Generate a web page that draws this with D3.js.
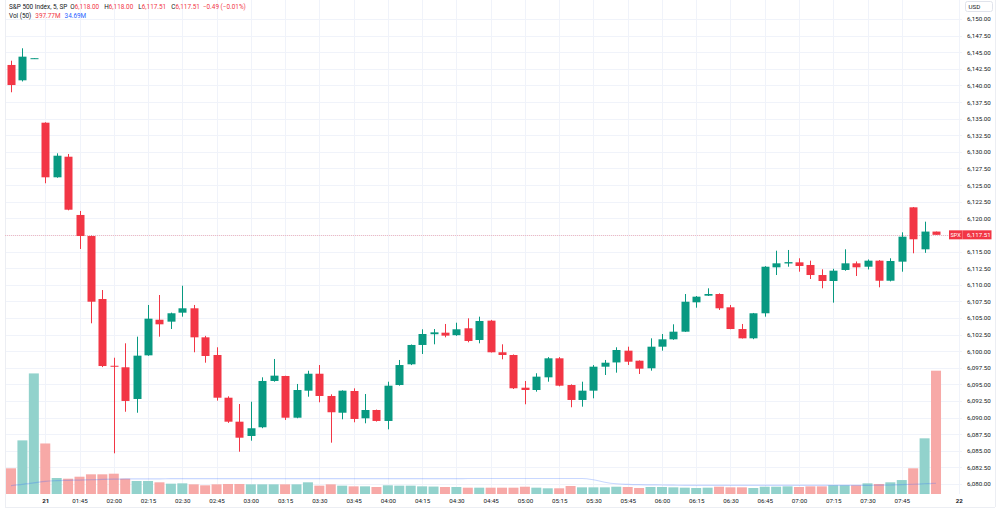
<!DOCTYPE html>
<html><head><meta charset="utf-8">
<script src="https://cdn.jsdelivr.net/npm/d3@7/dist/d3.min.js"></script>
<style>
body{margin:0;background:#fff;}
svg{display:block;font-family:Roboto,"Liberation Sans",sans-serif;}
</style>
</head><body>
<svg id="c" width="1000" height="509"></svg>
<script>
// ---- data (5-minute bars, S&P 500 Index) ----
const open  = [6143.08,6140.77,6144.05,6134.39,6126.17,6129.27,6120.50,6117.33,6107.85,6097.80,
  6097.57,6092.80,6099.37,6104.73,6104.44,6105.79,6106.45,6102.08,6099.42,6092.99,
  6089.38,6087.23,6088.54,6095.51,6096.26,6089.98,6094.05,6096.60,6093.25,6090.73,
  6094.00,6089.89,6091.14,6089.49,6094.90,6098.02,6100.93,6102.55,6102.78,6102.40,
  6103.44,6101.68,6104.59,6099.83,6099.42,6094.50,6094.15,6096.06,6098.92,6094.90,
  6092.65,6094.05,6097.66,6098.30,6100.07,6098.56,6097.42,6100.67,6101.78,6102.93,
  6107.35,6108.35,6108.60,6106.60,6103.33,6101.93,6105.70,6112.62,6113.20,6113.37,
  6112.97,6111.46,6110.56,6112.22,6113.22,6112.71,6113.62,6110.60,6113.47,6121.65,
  6115.33,6118.00];
const high  = [6143.72,6145.59,6144.10,6134.45,6129.78,6129.68,6121.10,6117.40,6109.20,6099.01,
  6101.18,6102.18,6106.95,6108.45,6105.80,6109.85,6106.95,6102.30,6100.58,6093.20,
  6092.04,6092.39,6096.06,6098.82,6096.30,6095.06,6097.05,6097.91,6093.50,6094.10,
  6094.40,6093.55,6091.20,6095.40,6098.67,6101.00,6103.29,6103.33,6104.09,6104.28,
  6104.94,6105.19,6104.70,6101.03,6099.50,6095.51,6096.67,6099.10,6099.10,6095.00,
  6095.40,6097.90,6098.67,6100.58,6100.67,6098.60,6101.93,6102.58,6104.04,6108.60,
  6108.30,6109.46,6108.70,6106.95,6104.09,6105.75,6112.80,6115.12,6115.23,6113.98,
  6113.62,6112.32,6112.40,6115.33,6113.50,6113.80,6113.70,6113.98,6117.89,6121.70,
  6119.49,6118.00];
const low   = [6138.97,6140.60,6144.00,6125.27,6126.10,6121.20,6115.38,6104.19,6097.60,6084.62,
  6090.88,6090.73,6099.30,6102.18,6103.33,6105.19,6099.83,6098.26,6092.55,6089.20,
  6084.86,6086.52,6088.40,6095.40,6089.64,6089.90,6093.14,6092.30,6086.22,6089.74,
  6089.29,6089.14,6089.40,6088.23,6094.80,6097.90,6099.57,6101.03,6102.08,6102.30,
  6101.33,6101.18,6099.80,6098.77,6094.30,6092.00,6093.90,6095.40,6094.70,6091.55,
  6091.64,6092.90,6096.41,6096.76,6097.92,6096.56,6097.06,6100.07,6101.70,6102.90,
  6106.54,6108.30,6106.20,6103.30,6101.90,6101.80,6105.19,6111.46,6112.71,6111.96,
  6110.86,6109.46,6107.30,6112.10,6111.31,6112.30,6109.61,6110.50,6111.96,6114.73,
  6114.80,6117.51];
const close = [6140.06,6144.33,6144.10,6126.17,6129.42,6121.29,6117.33,6107.44,6097.76,6097.66,
  6092.50,6099.32,6104.89,6104.04,6105.70,6106.45,6102.08,6099.27,6092.99,6089.38,
  6086.97,6088.39,6095.51,6096.31,6089.98,6094.15,6096.60,6093.25,6090.80,6094.05,
  6089.79,6091.14,6089.49,6094.80,6097.91,6100.93,6102.58,6102.83,6102.33,6103.29,
  6101.53,6104.54,6099.83,6099.42,6094.41,6094.15,6096.16,6098.92,6094.80,6092.65,
  6094.05,6097.66,6098.26,6100.17,6098.41,6097.36,6100.67,6101.78,6102.93,6107.44,
  6108.20,6108.60,6106.45,6103.33,6101.93,6105.70,6112.71,6113.22,6113.40,6112.82,
  6111.46,6110.56,6112.11,6113.22,6112.62,6113.62,6110.60,6113.57,6117.23,6116.84,
  6118.00,6117.51];
const volume = [82.9,173,389,163,51.6,49.4,55.8,63.5,63.5,65.5,
  49.4,42,42,37.7,33.3,34.4,31.2,28,31.2,32.3,
  32.3,31.2,31.2,31.2,31.2,31.2,37.7,26.9,31.2,26.9,
  24.7,24.7,22.6,28,26.9,26.9,24.7,24,22.6,22.6,
  20.4,20.4,20.4,20.4,20.4,23.5,20.4,18.4,18.4,25.8,
  21.5,21.5,21.5,23.5,22.6,19.4,22.6,22.6,21.5,20.4,
  19.4,20.4,23.5,21.5,21.5,19.4,23.5,23.5,24.7,22.6,
  24.7,24.7,28,28,28,34.4,32.3,37.7,45,82.9,
  179.6,397.77];
const volMA = [27,31,36,41,43,44,45,46,47,48,
  48.5,49,49,49,49.5,49.5,49.5,49.5,49.5,49.5,
  49.5,49.5,49.5,49.5,49.5,49.5,49.5,49.5,49.5,49.5,
  49.5,49.5,49.5,49.5,49.5,49.5,49.5,49.5,49.5,49.5,
  50,50,50,50,50,50,50,50,50,50,
  50,46,38,33,31,30,29.5,29,28.5,28,
  28,28,28,28,28,28,28,28,28,28,
  28,28,28,28,28,28,28.5,29,30,31.5,
  33,34.69];
const xTickBars   = [3,6,9,12,15,18,21,24,27,30,33,36,39,42,45,48,51,54,57,60,63,66,69,72,75,78,83];
const xTickLabels = ["21","01:45","02:00","02:15","02:30","02:45","03:00","03:15","03:30","03:45",
  "04:00","04:15","04:30","04:45","05:00","05:15","05:30","05:45","06:00","06:15",
  "06:30","06:45","07:00","07:15","07:30","07:45","22"];
const priceTicks = [6080,6082.5,6085,6087.5,6090,6092.5,6095,6097.5,6100,6102.5,6105,6107.5,
  6110,6112.5,6115,6117.5,6120,6122.5,6125,6127.5,6130,6132.5,6135,6137.5,6140,6142.5,
  6145,6147.5,6150];
const symbol = "S&P 500 Index, 5, SP";
const ticker = "SPX";

// ---- drawing ----
const UP = "#089981", DOWN = "#f23645";
const VUP = "#92d2cc", VDOWN = "#f7a9a7";
const svg = d3.select("#c");
const plotL = 5, plotR = 962, axisR = 995, bottom = 507;

const x = d3.scaleLinear().domain([0, 83]).range([11, 11 + 11.42 * 83]);
const y = d3.scaleLinear().domain([6080, 6150]).range([484, 19]);
const yv = d3.scaleLinear().domain([0, volume[volume.length - 1]]).range([494, 370.7]);
const n = close.length;
const idx = d3.range(n);
const isUp = i => close[i] >= open[i];

// grid
const g = svg.append("g");
g.selectAll("line.h").data(priceTicks).join("line")
  .attr("x1", plotL).attr("x2", plotR)
  .attr("y1", d => Math.round(y(d)) + 0.5).attr("y2", d => Math.round(y(d)) + 0.5)
  .attr("stroke", "#f0f3fa").attr("stroke-width", 1);
g.selectAll("line.v").data(xTickBars).join("line")
  .attr("x1", d => Math.round(x(d)) + 0.5).attr("x2", d => Math.round(x(d)) + 0.5)
  .attr("y1", 0).attr("y2", 494)
  .attr("stroke", "#f0f3fa").attr("stroke-width", 1);

// frame
svg.append("line").attr("x1", plotL + 0.5).attr("x2", plotL + 0.5).attr("y1", 0).attr("y2", bottom)
  .attr("stroke", "#eceef3");
svg.append("line").attr("x1", axisR + 0.5).attr("x2", axisR + 0.5).attr("y1", 0).attr("y2", bottom)
  .attr("stroke", "#eceef3");
svg.append("line").attr("x1", plotL).attr("x2", axisR).attr("y1", bottom + 0.5).attr("y2", bottom + 0.5)
  .attr("stroke", "#eceef3");

// volume bars
svg.append("g").selectAll("rect").data(idx).join("rect")
  .attr("x", i => x(i) - 5).attr("width", 10)
  .attr("y", i => yv(volume[i])).attr("height", i => yv(0) - yv(volume[i]))
  .attr("fill", i => isUp(i) ? VUP : VDOWN);

// volume MA line
svg.append("path").datum(idx)
  .attr("d", d3.line().x(i => x(i)).y(i => yv(volMA[i])).curve(d3.curveMonotoneX))
  .attr("fill", "none").attr("stroke", "rgba(41,98,255,0.25)").attr("stroke-width", 1.2);

// last price dotted line
const last = n - 1;
svg.append("line").attr("x1", plotL).attr("x2", 949)
  .attr("y1", Math.round(y(close[last])) + 0.5).attr("y2", Math.round(y(close[last])) + 0.5)
  .attr("stroke", DOWN).attr("stroke-opacity", 0.3).attr("stroke-dasharray", "1,1");

// candles
const cg = svg.append("g");
cg.selectAll("line").data(idx).join("line")
  .attr("x1", i => Math.round(x(i)) + 0.5).attr("x2", i => Math.round(x(i)) + 0.5)
  .attr("y1", i => y(high[i])).attr("y2", i => y(low[i]))
  .attr("stroke", i => isUp(i) ? UP : DOWN).attr("stroke-width", 1);
cg.selectAll("rect").data(idx).join("rect")
  .attr("x", i => Math.round(x(i)) - 3.5).attr("width", 8)
  .attr("y", i => y(Math.max(open[i], close[i])))
  .attr("height", i => Math.max(1, Math.abs(y(open[i]) - y(close[i]))))
  .attr("fill", i => isUp(i) ? UP : DOWN);

// price axis
const fmt = d3.format(",.2f");
const lastY = y(close[last]);
const yAxis = d3.axisRight(y)
  .tickValues(priceTicks.filter(p => Math.abs(y(p) - lastY) > 8))
  .tickFormat(fmt).tickSize(0).tickPadding(0);
const ya = svg.append("g").attr("transform", `translate(967,0)`).call(yAxis);
ya.select(".domain").remove();
ya.selectAll("text").attr("fill", "#131722").attr("font-size", 6.2)
  .attr("font-family", "Roboto, 'Liberation Sans', sans-serif");

// USD box
svg.append("rect").attr("x", 965.5).attr("y", 1.5).attr("width", 27).attr("height", 10)
  .attr("rx", 2).attr("fill", "#fff").attr("stroke", "#e0e3eb");
svg.append("text").attr("x", 968.5).attr("y", 8.8).attr("font-size", 6.2).attr("fill", "#131722").text("USD");

// last price label
svg.append("rect").attr("x", 949).attr("y", lastY - 4.5).attr("width", 13.5).attr("height", 9).attr("fill", DOWN);
svg.append("rect").attr("x", 962.5).attr("y", lastY - 4.5).attr("width", 29).attr("height", 9).attr("fill", DOWN);
svg.append("text").attr("x", 955.7).attr("y", lastY + 2.2).attr("text-anchor", "middle")
  .attr("font-size", 5.6).attr("fill", "#fff").text(ticker);
svg.append("text").attr("x", 967).attr("y", lastY + 2.2)
  .attr("font-size", 6.2).attr("fill", "#fff").text(fmt(close[last]));

// time axis
const xAxis = d3.axisBottom(x).tickValues(xTickBars)
  .tickFormat((d, k) => xTickLabels[k]).tickSize(0).tickPadding(0);
const xa = svg.append("g").attr("transform", "translate(0,503)").call(xAxis);
xa.select(".domain").remove();
xa.selectAll("text").attr("dy", 0).attr("fill", "#131722").attr("font-size", 6.2)
  .attr("font-family", "Roboto, 'Liberation Sans', sans-serif")
  .attr("font-weight", (d, k) => /^\d\d$/.test(xTickLabels[k]) ? "bold" : "normal");

// legend
const chg = close[last] - close[last - 1];
const pct = chg / close[last - 1] * 100;
const minus = v => (v < 0 ? "\u2212" : "+") + Math.abs(v).toFixed(2);
const valCol = isUp(last) ? UP : DOWN;
const leg = svg.append("g").attr("font-size", 6.4);
const t1 = leg.append("text").attr("x", 9).attr("y", 8.6).attr("fill", "#131722");
t1.append("tspan").text(symbol);
[["O", open[last]], ["H", high[last]], ["L", low[last]], ["C", close[last]]].forEach(([k, v], j) => {
  t1.append("tspan").attr("dx", j === 0 ? 3 : 5).attr("fill", "#131722").text(k);
  t1.append("tspan").attr("fill", valCol).text(fmt(v));
});
t1.append("tspan").attr("dx", 3).attr("fill", valCol)
  .text(`${minus(chg)} (${minus(pct)}%)`);
const t2 = leg.append("text").attr("x", 9).attr("y", 17.6).attr("fill", "#131722");
t2.append("tspan").text("Vol (50)");
t2.append("tspan").attr("dx", 4).attr("fill", valCol).text(volume[last].toFixed(2) + "M");
t2.append("tspan").attr("dx", 4).attr("fill", "#2962ff").text(volMA[last].toFixed(2) + "M");
</script>
</body></html>
